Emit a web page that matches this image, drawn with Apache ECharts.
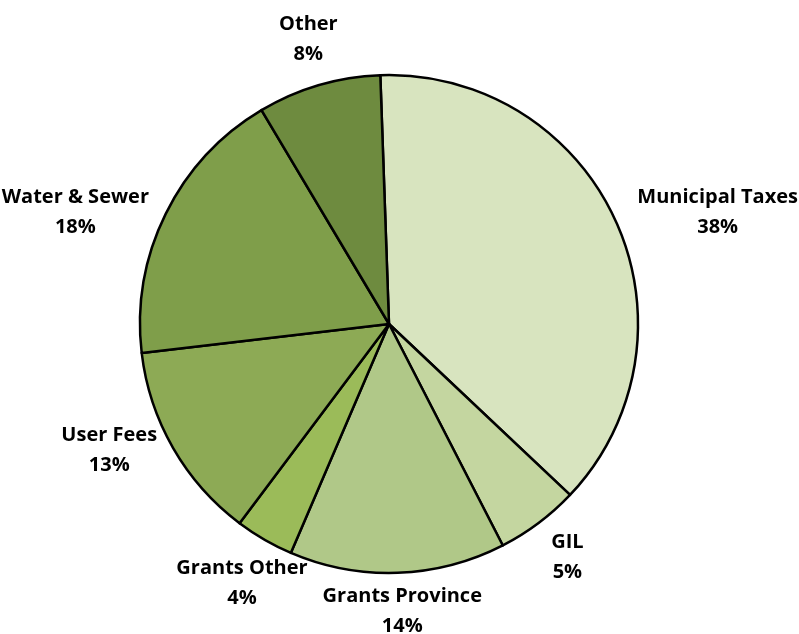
<!DOCTYPE html>
<html>
<head>
<meta charset="utf-8">
<script src="https://cdn.jsdelivr.net/npm/echarts@6/dist/echarts.min.js"></script>
<style>html,body{margin:0;padding:0;background:#fff;}#c{width:799px;height:634px;}</style>
</head>
<body>
<div id="c"></div>
<script>
const categories = ['Municipal Taxes', 'GIL', 'Grants Province', 'Grants Other', 'User Fees', 'Water & Sewer', 'Other'];
const values = [37.6, 5.4, 14.0, 3.8, 12.9, 18.3, 8.0];
const colors = ['#D8E4BF', '#C4D6A0', '#B0C888', '#9BBB59', '#8DAA55', '#7F9E4A', '#6E8B3F'];

const chart = echarts.init(document.getElementById('c'), null, {renderer: 'canvas'});
const data = categories.map((c, i) => ({name: c, value: values[i], itemStyle: {color: colors[i]}}));

function labelLayout(params) {
  const series = chart.getModel().getSeriesByIndex(0);
  const lay = series.getData().getItemLayout(params.dataIndex);
  const mid = (lay.startAngle + lay.endAngle) / 2;
  const ux = Math.cos(mid), uy = Math.sin(mid);
  const w = params.labelRect.width, h = params.labelRect.height;
  const side = Math.abs(ux) > 0.8;
  const g = side ? 22 : 16;
  const ax = lay.cx + ux * (lay.r + g);
  const ay = lay.cy + uy * (lay.r + g);
  let x, y;
  if (side) {
    x = ax + Math.sign(ux) * w / 2 + 3;
    y = ay + (ux < 0 ? -uy * 0.6 * h / 2 : 0);
  } else {
    const t = Math.min((w / 2) / Math.max(Math.abs(ux), 1e-6), (h / 2) / Math.max(Math.abs(uy), 1e-6));
    x = ax + ux * t + 3;
    y = ay + uy * t;
  }
  const W = chart.getWidth(), H = chart.getHeight();
  x = Math.max(w / 2 + 1, Math.min(W - w / 2 - 1, x));
  y = Math.max(h / 2 - 4, Math.min(H - h / 2 + 7, y));
  return {x: x, y: y, align: 'center', verticalAlign: 'middle'};
}

chart.setOption({
  animation: false,
  backgroundColor: '#ffffff',
  series: [{
    type: 'pie',
    center: [389, 324],
    radius: 249,
    startAngle: 92,
    clockwise: true,
    avoidLabelOverlap: false,
    percentPrecision: 0,
    data: data,
    itemStyle: {borderColor: '#000', borderWidth: 2.5},
    label: {
      show: true,
      position: 'outside',
      formatter: '{b}\n{d}%',
      fontFamily: 'Open Sans',
      fontWeight: 'bold',
      fontSize: 20,
      lineHeight: 30,
      color: '#000'
    },
    labelLine: {show: false},
    labelLayout: labelLayout,
    emphasis: {disabled: true}
  }]
});
</script>
</body>
</html>
